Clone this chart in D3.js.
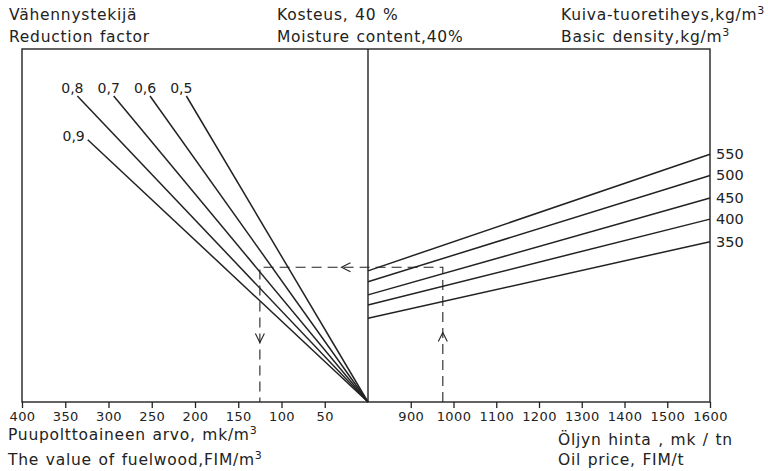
<!DOCTYPE html>
<html>
<head>
<meta charset="utf-8">
<script src="https://cdn.jsdelivr.net/npm/d3@7"></script>
<style>
  body { margin: 0; background: #fff; }
  text { font-family: "DejaVu Sans", sans-serif; fill: #222; }
</style>
</head>
<body>
<div id="svg-container"></div>
<script>
// reduction factor lines (left quadrant), all meet at the origin
var factors = [0.9, 0.8, 0.7, 0.6, 0.5];
var factorLabels = ["0,9", "0,8", "0,7", "0,6", "0,5"];
var factorTopEq = [360, 420, 420, 420, 420];   // equivalent value where each line ends

// basic density lines (right quadrant), equivalent value at oil price 800 and 1600
var densities = [550, 500, 450, 400, 350];
var densityAt800 = [180, 165, 147, 133, 115];
var densityAt1600 = [340, 311, 280, 251, 220];

// tick labels
var woodTicks = [400, 350, 300, 250, 200, 150, 100, 50];
var oilTicks = [900, 1000, 1100, 1200, 1300, 1400, 1500, 1600];

// worked example (dashed path)
var exampleOil = 975;
var exampleEq = 185;
var exampleWood = 125;

var width = 768, height = 471;
var svg = d3.select("#svg-container").append("svg")
    .attr("width", width).attr("height", height);

var xLeft = d3.scaleLinear().domain([0, 400]).range([368, 22]);
var xRight = d3.scaleLinear().domain([800, 1600]).range([368, 710]);
var y = d3.scaleLinear().domain([0, 420]).range([402, 96]);

var ink = "#222";

// frame
svg.append("rect")
    .attr("x", xLeft(400)).attr("y", 49)
    .attr("width", xRight(1600) - xLeft(400)).attr("height", y(0) - 49)
    .style("fill", "none").style("stroke", ink).style("stroke-width", 1.4);
svg.append("line")
    .attr("x1", xLeft(0)).attr("x2", xLeft(0)).attr("y1", 49).attr("y2", y(0))
    .style("stroke", ink).style("stroke-width", 1.4);

// axes
var axisLeft = d3.axisBottom(xLeft).tickValues(woodTicks).tickSize(6).tickPadding(4);
var axisRight = d3.axisBottom(xRight).tickValues(oilTicks).tickSize(6).tickPadding(4)
    .tickFormat(d3.format("d"));

[axisLeft, axisRight].forEach(function(ax){
  var g = svg.append("g").attr("transform", "translate(0," + y(0) + ")").call(ax);
  g.select(".domain").remove();
  g.selectAll("line").style("stroke", ink).style("stroke-width", 1.3);
  g.selectAll("text").style("font-size", "13px").style("font-family", "DejaVu Sans")
      .style("letter-spacing", "0.4px").style("fill", ink);
});

// reduction factor lines
var fLines = svg.append("g");
factors.forEach(function(f, i){
  var x2 = xLeft(f * factorTopEq[i]), y2 = y(factorTopEq[i]);
  fLines.append("line")
      .attr("x1", xLeft(0)).attr("y1", y(0))
      .attr("x2", x2).attr("y2", y2)
      .style("stroke", ink).style("stroke-width", 1.5);
  var lab = fLines.append("text")
      .style("font-size", "14px")
      .text(factorLabels[i]);
  if (i === 0) {
    lab.attr("x", x2 - 3).attr("y", y2 + 1).attr("text-anchor", "end");
  } else {
    lab.attr("x", x2 - 5).attr("y", y2 - 3).attr("text-anchor", "middle");
  }
});

// density lines
var dLines = svg.append("g");
densities.forEach(function(d, i){
  dLines.append("line")
      .attr("x1", xRight(800)).attr("y1", y(densityAt800[i]))
      .attr("x2", xRight(1600)).attr("y2", y(densityAt1600[i]))
      .style("stroke", ink).style("stroke-width", 1.5);
  dLines.append("text")
      .attr("x", xRight(1600) + 6).attr("y", y(densityAt1600[i]) + 5)
      .style("font-size", "14.5px")
      .text(d);
});

// dashed example path
var path = [[xRight(exampleOil), y(0)], [xRight(exampleOil), y(exampleEq)],
            [xLeft(exampleWood), y(exampleEq)], [xLeft(exampleWood), y(0)]];
svg.append("path")
    .attr("d", d3.line()(path))
    .style("fill", "none").style("stroke", ink).style("stroke-width", 1.1)
    .style("stroke-dasharray", "10,6");

function chevron(cx, cy, dir){
  var s = 4.5, pts;
  if (dir === "left") pts = [[cx + s, cy - s], [cx - s, cy], [cx + s, cy + s]];
  if (dir === "down") pts = [[cx - s, cy - s], [cx, cy + s], [cx + s, cy - s]];
  if (dir === "up") pts = [[cx - s, cy + s], [cx, cy - s], [cx + s, cy + s]];
  svg.append("path").attr("d", d3.line()(pts))
      .style("fill", "none").style("stroke", ink).style("stroke-width", 1.1);
}
chevron(346, y(exampleEq), "left");
chevron(xLeft(exampleWood), 338, "down");
chevron(xRight(exampleOil), 337, "up");

// titles
function twoLines(x, y1, y2, l1, l2){
  var g = svg.append("g").style("font-size", "15.5px").style("letter-spacing", "0.75px")
      .style("word-spacing", "1px");
  var t1 = g.append("text").attr("x", x).attr("y", y1);
  var t2 = g.append("text").attr("x", x).attr("y", y2);
  [[t1, l1], [t2, l2]].forEach(function(p){
    var t = p[0], s = p[1];
    if (s.slice(-1) === "3") {
      t.append("tspan").text(s.slice(0, -1));
      t.append("tspan").attr("dy", -6).style("font-size", "11px").text("3");
    } else {
      t.text(s);
    }
  });
}
twoLines(9, 20, 42, "Vähennystekijä", "Reduction factor");
twoLines(277, 20, 42, "Kosteus, 40 %", "Moisture content,40%");
twoLines(561, 20, 42, "Kuiva-tuoretiheys,kg/m3", "Basic density,kg/m3");
twoLines(8, 440, 465, "Puupolttoaineen arvo, mk/m3", "The value of fuelwood,FIM/m3");
twoLines(558, 445, 465, "Öljyn hinta , mk / tn", "Oil price, FIM/t");
</script>
</body>
</html>
